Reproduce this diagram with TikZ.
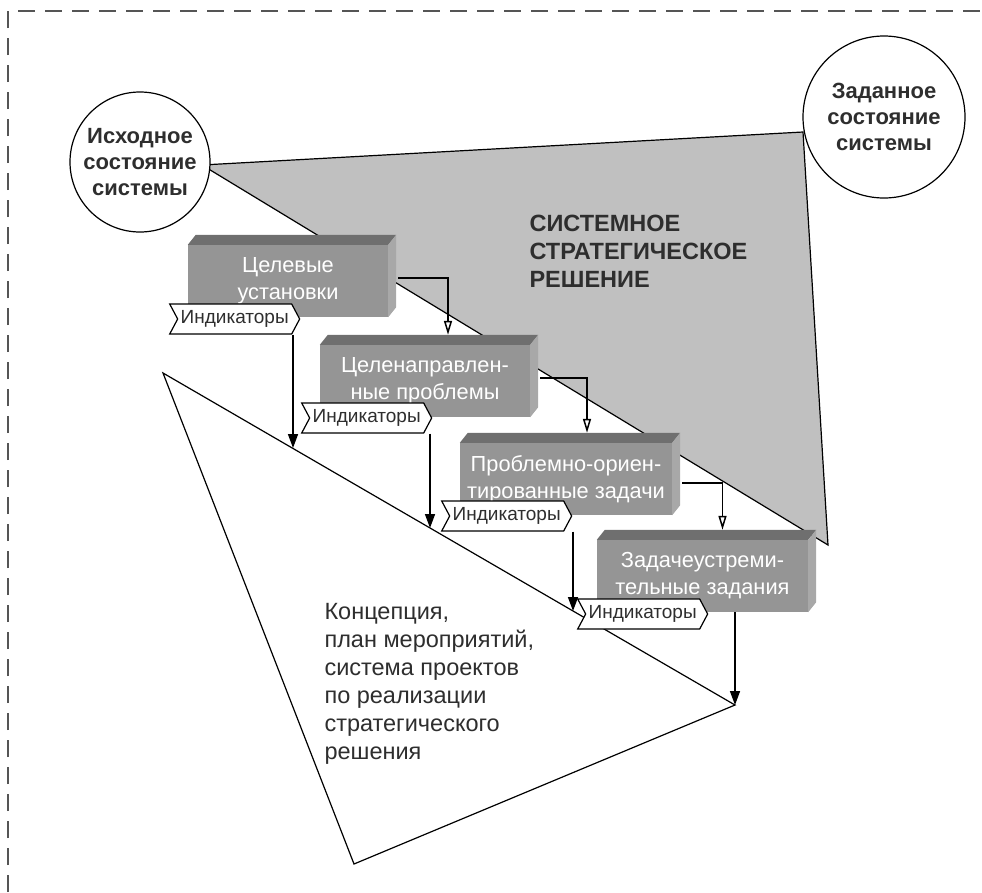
\documentclass[tikz,border=0pt]{standalone}
\usepackage{fontspec}
\setmainfont{Liberation Sans}
\usetikzlibrary{shapes.symbols,arrows.meta,calc}
\definecolor{boxfront}{HTML}{959595}
\definecolor{boxtop}{HTML}{6F6F6F}
\definecolor{boxside}{HTML}{A8A8A8}
\definecolor{decision}{HTML}{C0C0C0}
\definecolor{textgray}{HTML}{2E2E2E}
\definecolor{framegray}{HTML}{555555}

\begin{document}
\begin{tikzpicture}[x=1pt,y=-1pt,
    box/.style={fill=boxfront,text=white,inner sep=0pt,align=center,
      minimum height=72pt,font=\fontsize{21.8}{27}\selectfont},
    indtag/.style={signal,signal from=west,signal to=east,signal pointer angle=124,
      draw,line width=1.2pt,fill=white,inner xsep=3pt,inner ysep=0pt,
      minimum height=30pt,text=textgray,font=\fontsize{19}{21}\selectfont},
    statecircle/.style={circle,draw,line width=1.2pt,fill=white,align=center,
      inner sep=0pt,text=textgray,font=\bfseries\fontsize{22}{26}\selectfont},
    nextlink/.style={line width=1.5pt,-{Triangle[open,length=14pt,width=8pt,fill=white]}},
    fwd/.style={line width=1.5pt,-{Triangle[length=14pt,width=10pt]}},
    dashframe/.style={draw=framegray,line width=1.2pt,dash pattern=on 17pt off 10pt}]
	\useasboundingbox (0,0) rectangle (982,892);
	\draw[dashframe] (8,892) -- (8,11) -- (982,11);

	% strategic decision and concept
	\coordinate (s1) at (202,165);
	\coordinate (s2) at (803,132);
	\coordinate (s3) at (828,545);
	\filldraw[fill=decision,line width=1.2pt] (s1) -- (s2) -- (s3) -- cycle;
	\coordinate (w1) at (163,373);
	\coordinate (w2) at (735,705);
	\coordinate (w3) at (354,864);
	\filldraw[fill=white,line width=1.2pt] (w1) -- (w2) -- (w3) -- cycle;
	\node[anchor=base west,align=left,text=textgray,font=\bfseries\fontsize{23.5}{28}\selectfont]
		(dec) at (526,287) {СИСТЕМНОЕ\\СТРАТЕГИЧЕСКОЕ\\РЕШЕНИЕ};
	\node[anchor=base west,align=left,text=textgray,font=\fontsize{23.5}{28}\selectfont]
		(conc) at (321,759) {Концепция,\\план мероприятий,\\система проектов\\по реализации\\стратегического\\решения};

	% states
	\node[statecircle,minimum size=140pt] (start) at (140,162) {Исходное\\состояние\\системы};
	\node[statecircle,minimum size=162pt] (goal) at (884,117) {Заданное\\состояние\\системы};

	% boxes
	\node[box,minimum width=200pt] (b1) at (288,281) {Целевые\\установки};
	\node[box,minimum width=210pt] (b2) at (425,381) {Целенаправлен-\\ные проблемы};
	\node[box,minimum width=212pt] (b3) at (566,479) {Проблемно-ориен-\\тированные задачи};
	\node[box,minimum width=211pt] (b4) at (702.5,576) {Задачеустреми-\\тельные задания};
	\foreach \b in {b1,b2,b3,b4}{
		\fill[boxtop] (\b.north west) -- ++(8,-10) -- ($(\b.north east)+(8,-10)$) -- (\b.north east) -- cycle;
		\fill[boxside] (\b.north east) -- ++(8,-10) -- ($(\b.south east)+(8,-10)$) -- (\b.south east) -- cycle;
	}

	% indicators
	\node[indtag,anchor=west] (i1) at (177,319) {Индикаторы};
	\node[indtag,anchor=west] (i2) at (309,418) {Индикаторы};
	\node[indtag,anchor=west] (i3) at (449,516) {Индикаторы};
	\node[indtag,anchor=west] (i4) at (585,614) {Индикаторы};

	% connectors
	\draw[nextlink] ($(b1.east)+(10,-3)$) -| ($(b2.north)+(23,-10)$);
	\draw[nextlink] ($(b2.east)+(10,-3)$) -| ($(b3.north)+(21,-10)$);
	\draw[nextlink] ($(b3.east)+(10,4)$) -| ($(b4.north)+(20,-10)$);
	\coordinate (t1) at (293,448);
	\coordinate (t2) at (430,528);
	\coordinate (t3) at (573,611);
	\draw[fwd] (i1.south -| t1) -- (t1);
	\draw[fwd] (i2.south -| t2) -- (t2);
	\draw[fwd] (i3.south -| t3) -- (t3);
	\draw[fwd] (b4.south -| w2) -- (w2);
\end{tikzpicture}
\end{document}
